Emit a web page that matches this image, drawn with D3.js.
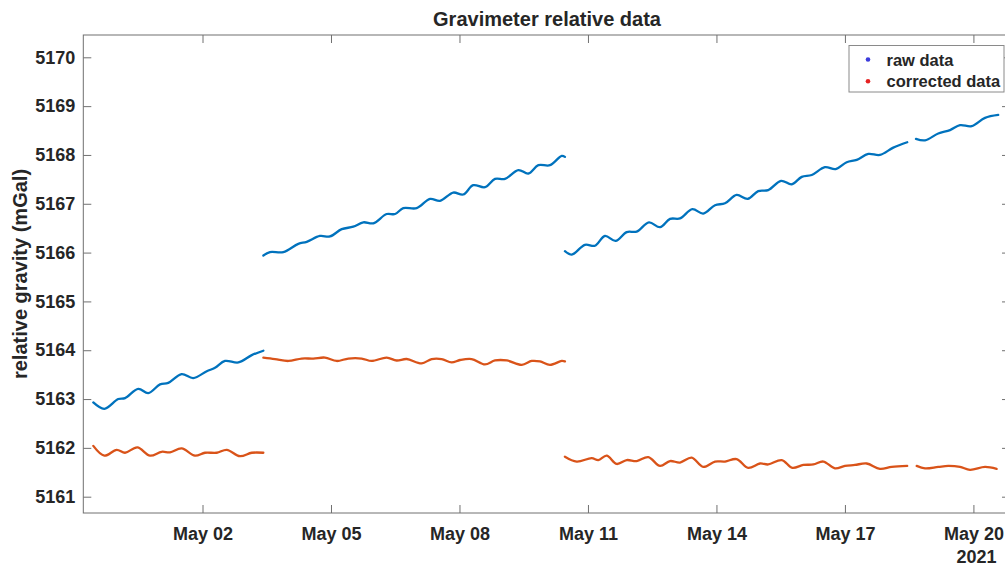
<!DOCTYPE html>
<html>
<head>
<meta charset="utf-8">
<script src="https://cdn.jsdelivr.net/npm/d3@7"></script>
<style>
  body { margin: 0; background: #fff; }
  text { font-family: "Liberation Sans", Arial, Helvetica, sans-serif; font-weight: bold; fill: #262626; }
</style>
</head>
<body>
<svg id="chart" width="1005" height="568"></svg>
<script>
// Time stamps are hours after 2021-04-29 00:00 UTC, values in mGal.
const rawSeg1 = [[10.8,5162.93],[17.0,5162.80],[24.8,5163.00],[28.6,5163.02],[36.0,5163.21],[41.6,5163.12],[48.2,5163.30],[52.8,5163.33],[60.3,5163.51],[66.8,5163.43],[74.4,5163.57],[79.0,5163.64],[84.6,5163.78],[92.1,5163.75],[99.6,5163.90],[106.1,5163.99]];
const rawSeg2 = [[106.1,5165.94],[109.8,5166.01],[117.3,5166.01],[125.7,5166.18],[130.4,5166.22],[137.8,5166.34],[143.4,5166.33],[150.0,5166.48],[156.5,5166.53],[162.1,5166.62],[167.7,5166.60],[175.2,5166.79],[179.9,5166.79],[184.5,5166.91],[192.0,5166.91],[199.5,5167.10],[205.1,5167.06],[212.5,5167.23],[218.1,5167.19],[223.7,5167.38],[230.3,5167.34],[235.9,5167.51],[241.5,5167.51],[249.0,5167.69],[254.6,5167.62],[260.2,5167.79],[266.7,5167.79],[273.3,5167.98],[275.1,5167.96]];
const rawSeg3 = [[275.1,5166.03],[278.9,5165.96],[286.3,5166.16],[291.9,5166.14],[297.5,5166.34],[303.5,5166.24],[309.7,5166.42],[315.3,5166.43],[322.2,5166.62],[328.4,5166.52],[334.0,5166.69],[339.6,5166.70],[346.5,5166.89],[352.6,5166.80],[359.2,5166.97],[364.8,5167.01],[371.3,5167.18],[377.5,5167.10],[383.4,5167.26],[389.0,5167.28],[396.2,5167.47],[402.2,5167.40],[407.8,5167.55],[413.4,5167.59],[420.8,5167.75],[426.8,5167.71],[433.0,5167.85],[438.6,5167.90],[445.1,5168.02],[451.6,5168.00],[459.1,5168.15],[466.9,5168.26]];
const rawSeg4 = [[471.8,5168.33],[476.9,5168.30],[484.3,5168.44],[490.9,5168.51],[496.5,5168.61],[503.0,5168.59],[510.5,5168.76],[517.9,5168.82]];

const corrSeg1 = [[10.8,5162.04],[17.0,5161.84],[23.9,5161.96],[28.6,5161.90],[35.5,5162.01],[42.6,5161.84],[49.1,5161.92],[53.8,5161.91],[60.3,5161.99],[67.8,5161.84],[73.4,5161.90],[80.0,5161.90],[85.6,5161.96],[93.0,5161.83],[99.6,5161.90],[106.1,5161.90]];
const corrSeg2 = [[106.1,5163.85],[112.6,5163.82],[120.1,5163.78],[127.6,5163.83],[134.1,5163.83],[140.6,5163.85],[147.2,5163.78],[153.7,5163.83],[161.2,5163.83],[166.8,5163.78],[175.2,5163.85],[180.8,5163.79],[186.4,5163.82],[194.8,5163.73],[200.4,5163.82],[206.0,5163.82],[211.6,5163.75],[216.3,5163.80],[222.8,5163.82],[230.3,5163.71],[235.9,5163.79],[242.5,5163.79],[250.9,5163.70],[256.5,5163.78],[261.1,5163.77],[266.7,5163.70],[273.3,5163.78],[275.1,5163.77]];
const corrSeg3 = [[275.1,5161.82],[281.7,5161.72],[290.1,5161.79],[293.8,5161.75],[298.5,5161.84],[304.1,5161.67],[309.7,5161.75],[315.3,5161.73],[321.8,5161.81],[328.4,5161.63],[334.0,5161.73],[339.6,5161.70],[346.1,5161.80],[352.6,5161.61],[359.2,5161.72],[364.8,5161.72],[371.3,5161.77],[377.8,5161.59],[384.4,5161.68],[389.0,5161.66],[396.6,5161.75],[402.5,5161.59],[408.7,5161.65],[414.3,5161.66],[419.9,5161.72],[426.4,5161.58],[432.0,5161.63],[437.6,5161.65],[444.2,5161.68],[451.6,5161.57],[458.2,5161.61],[466.9,5161.63]];
const corrSeg4 = [[472.2,5161.63],[476.9,5161.58],[484.3,5161.61],[489.9,5161.63],[496.5,5161.61],[502.1,5161.55],[510.5,5161.61],[517.0,5161.57]];

const xTickDates = [[2021,4,2],[2021,4,5],[2021,4,8],[2021,4,11],[2021,4,14],[2021,4,17],[2021,4,20]];
const xTickLabels = ["May 02","May 05","May 08","May 11","May 14","May 17","May 20"];
const yTicks = [5161,5162,5163,5164,5165,5166,5167,5168,5169,5170];
const legendLabels = ["raw data","corrected data"];

const t0 = Date.UTC(2021, 3, 29);
const toDate = h => new Date(t0 + h * 3600e3);

const plotLeft = 83.3, plotRight = 1010, plotTop = 35, plotBottom = 513;
const svg = d3.select("#chart");

const x = d3.scaleUtc().domain([toDate(5.2), toDate(524.5)]).range([plotLeft, plotRight]);
const y = d3.scaleLinear().domain([5160.666, 5170.457]).range([plotBottom, plotTop]);

const tickDates = xTickDates.map(d => new Date(Date.UTC(d[0], d[1], d[2])));
const axisColor = "#707070";

// Axes with inward ticks
const gx = svg.append("g").attr("transform", `translate(0,${plotBottom})`)
  .call(d3.axisBottom(x).tickValues(tickDates).tickSizeInner(-8).tickSizeOuter(0).tickPadding(14)
    .tickFormat((d, i) => xTickLabels[i]));
const gxTop = svg.append("g").attr("transform", `translate(0,${plotTop})`)
  .call(d3.axisTop(x).tickValues(tickDates).tickSizeInner(-8).tickSizeOuter(0).tickFormat(""));
const gy = svg.append("g").attr("transform", `translate(${plotLeft},0)`)
  .call(d3.axisLeft(y).tickValues(yTicks).tickSizeInner(-8).tickSizeOuter(0).tickPadding(8).tickFormat(d3.format("d")));
const gyRight = svg.append("g").attr("transform", `translate(${plotRight},0)`)
  .call(d3.axisRight(y).tickValues(yTicks).tickSizeInner(-8).tickSizeOuter(0).tickFormat(""));

[gx, gxTop, gy, gyRight].forEach(g => {
  g.select(".domain").remove();
  g.selectAll(".tick line").attr("stroke", axisColor).attr("stroke-width", 1);
  g.selectAll("text").attr("font-size", 18).attr("fill", "#262626")
    .attr("font-family", "'Liberation Sans', Arial, sans-serif").attr("font-weight", "bold");
});

// Axes box
svg.append("rect")
  .attr("x", plotLeft).attr("y", plotTop).attr("width", plotRight - plotLeft).attr("height", plotBottom - plotTop)
  .attr("fill", "none").attr("stroke", axisColor).attr("stroke-width", 1);

// Data lines
const line = d3.line().x(d => x(toDate(d[0]))).y(d => y(d[1])).curve(d3.curveCatmullRom.alpha(0.5));
const plotData = (segs, color) => segs.forEach(seg =>
  svg.append("path").datum(seg).attr("d", line)
    .attr("fill", "none").attr("stroke", color).attr("stroke-width", 2.3)
    .attr("stroke-linejoin", "round").attr("stroke-linecap", "round"));
plotData([rawSeg1, rawSeg2, rawSeg3, rawSeg4], "#0072BD");
plotData([corrSeg1, corrSeg2, corrSeg3, corrSeg4], "#D95319");

// Title and labels
svg.append("text").attr("x", 547).attr("y", 26).attr("text-anchor", "middle")
  .attr("font-size", 20).text("Gravimeter relative data");
svg.append("text").attr("transform", "translate(27,274) rotate(-90)").attr("text-anchor", "middle")
  .attr("font-size", 20).text("relative gravity (mGal)");
svg.append("text").attr("x", 976.5).attr("y", 563).attr("text-anchor", "middle")
  .attr("font-size", 18).text("2021");

// Legend
const lg = svg.append("g");
lg.append("rect").attr("x", 849).attr("y", 45.5).attr("width", 155).attr("height", 46.5)
  .attr("fill", "#fff").attr("stroke", "#8a8a8a").attr("stroke-width", 1);
const legendColors = ["#3b3bdc", "#e62222"];
legendLabels.forEach((lab, i) => {
  const cy = 59.5 + i * 21.7;
  lg.append("circle").attr("cx", 868).attr("cy", cy).attr("r", 2.3).attr("fill", legendColors[i]);
  lg.append("text").attr("x", 886.5).attr("y", cy + 6).attr("font-size", 16.5).text(lab);
});
</script>
</body>
</html>
